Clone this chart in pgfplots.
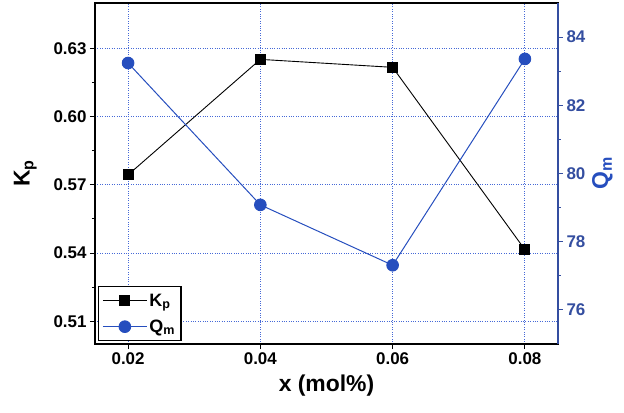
\documentclass[border=0pt]{standalone}
\usepackage{fontspec}
\setmainfont{Liberation Sans}
\usepackage{pgfplots}
\pgfplotsset{compat=1.18}
\definecolor{qblue}{RGB}{38,78,190}
\definecolor{axblue}{RGB}{52,78,160}
\definecolor{gridblue}{RGB}{70,105,215}
\newcommand{\tickfont}{\bfseries\fontsize{17}{17}\selectfont}
\newcommand{\labfont}{\bfseries\fontsize{23}{23}\selectfont}
\begin{document}
\begin{tikzpicture}
\useasboundingbox (-95bp,-69bp) rectangle (529bp,344bp);
\begin{axis}[
  at={(0,0)}, anchor=south west,
  scale only axis, width=463bp, height=341bp,
  xmin=0.015, xmax=0.085, ymin=0.50, ymax=0.65,
  scaled x ticks=false, scaled y ticks=false,
  xtick={0.02,0.04,0.06,0.08}, xticklabels={0.02,0.04,0.06,0.08},
  ytick={0.51,0.54,0.57,0.60,0.63}, yticklabels={0.51,0.54,0.57,0.60,0.63},
  minor y tick num=1,
  xtick pos=bottom, ytick pos=left,
  tick align=outside,
  major tick length=5bp, minor tick length=3bp,
  every tick/.style={black, line width=1pt},
  axis line style={black, line width=1.3pt},
  grid=major,
  major grid style={gridblue, dotted, line width=1pt},
  tick label style={font=\tickfont},
  xlabel={x (mol\%)}, ylabel={K\textsubscript{p}},
  label style={font=\labfont},
  xlabel style={yshift=-4bp},
  ylabel style={yshift=10bp},
]
\addplot[black, line width=0.9pt, mark=square*, mark size=5bp, mark options={solid, fill=black}]
  coordinates {(0.02,0.5744) (0.04,0.6252) (0.06,0.6217) (0.08,0.5415)};
\end{axis}
\begin{axis}[
  at={(0,0)}, anchor=south west,
  scale only axis, width=463bp, height=341bp,
  xmin=0.015, xmax=0.085, ymin=75, ymax=85,
  axis x line=none, axis y line*=right,
  ytick={76,78,80,82,84}, yticklabels={76,78,80,82,84},
  minor y tick num=1,
  tick align=outside,
  major tick length=5bp, minor tick length=3bp,
  every tick/.style={axblue, line width=1pt},
  y axis line style={axblue, line width=1.5pt},
  yticklabel style={font=\tickfont, text=axblue},
  ylabel={Q\textsubscript{m}},
  ylabel style={font=\labfont, text=qblue},
  legend style={at={(0.006,0.008)}, anchor=south west, draw=black, line width=1.2pt,
     font=\bfseries\fontsize{18}{18}\selectfont, row sep=8bp, inner xsep=4bp, inner ysep=5bp},
  legend cell align=left,
  legend image code/.code={\draw[mark repeat=2, mark phase=2, #1] plot coordinates {(0bp,0bp) (22bp,0bp) (44bp,0bp)};},
]
\addlegendimage{black, line width=0.9pt, mark=square*, mark size=5bp, mark options={solid, fill=black}}
\addlegendentry{K\textsubscript{p}}
\addplot[qblue, line width=1pt, mark=*, mark size=5.8bp, mark options={solid, fill=qblue}]
  coordinates {(0.02,83.24) (0.04,79.08) (0.06,77.31) (0.08,83.36)};
\addlegendentry{Q\textsubscript{m}}
\end{axis}
\end{tikzpicture}
\end{document}
